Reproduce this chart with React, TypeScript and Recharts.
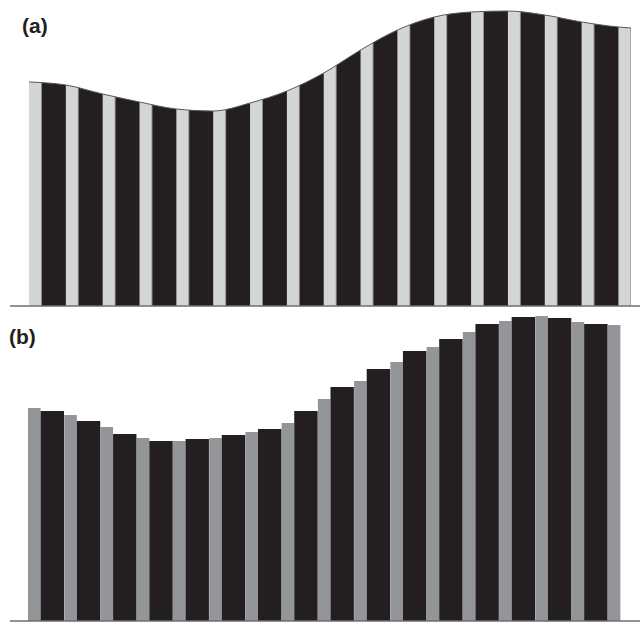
import React from 'react';
import { AreaChart, Area, BarChart, Bar, XAxis, YAxis } from 'recharts';

// panel (a): curve height read at the start of each light stripe, plus the right end
const curveX = [0, 1, 2, 3, 4, 5, 6, 7, 8, 9, 10, 11, 12, 13, 14, 15, 16, 16.34];
const curveH = [224, 221, 212, 204, 197, 195, 203, 215, 233, 256, 276, 289, 294, 295, 291, 284, 279, 278];

// panel (b): one group = light bar followed by dark bar
const groups = ['1', '2', '3', '4', '5', '6', '7', '8', '9', '10', '11', '12', '13', '14', '15', '16', '17'];
const grayH = [213, 206, 194, 183, 180, 183, 189, 198, 222, 240, 259, 274, 289, 300, 305, 299, 296];
const darkH = [210, 200, 187, 180, 182, 186, 192, 210, 234, 252, 270, 282, 297, 304, 303, 297, null];

const DARK = '#231f20';
const LIGHT = '#d4d5d7';
const MID = '#939598';
const AXIS = '#6d6e71';

const STRIPE_START = 29;
const STRIPE_PERIOD = 36.84;
const STRIPE_LIGHT = 12.5;

const curveData = curveX.map((x, i) => ({ x, h: curveH[i] }));
const barData = groups.map((name, i) => ({ name, gray: grayH[i], dark: darkH[i] }));

const labelStyle: React.CSSProperties = {
  position: 'absolute',
  fontFamily: '"Liberation Sans", Arial, sans-serif',
  fontWeight: 'bold',
  fontSize: 21,
  lineHeight: '21px',
  color: DARK,
};

export default function App() {
  return (
    <div style={{ position: 'absolute', left: 0, top: 0, width: 640, height: 623, overflow: 'hidden', background: '#fff' }}>
      <div style={{ position: 'absolute', left: 0, top: 0 }}>
        <AreaChart width={640} height={308} data={curveData} margin={{ top: 0, right: 0, left: 10, bottom: 0 }}>
          <defs>
            <pattern id="stripes" patternUnits="userSpaceOnUse" x={STRIPE_START} y={0} width={STRIPE_PERIOD} height={320}>
              <rect x={0} y={0} width={STRIPE_LIGHT} height={320} fill={LIGHT} />
              <rect x={STRIPE_LIGHT} y={0} width={STRIPE_PERIOD - STRIPE_LIGHT} height={320} fill={DARK} />
            </pattern>
          </defs>
          <XAxis
            type="number"
            dataKey="x"
            domain={[0, 16.34]}
            padding={{ left: 19, right: 9 }}
            tick={false}
            tickLine={false}
            height={2}
            axisLine={{ stroke: AXIS, strokeWidth: 1.5 }}
          />
          <YAxis hide domain={[0, 306]} />
          <Area
            type="monotone"
            dataKey="h"
            stroke="#58595b"
            strokeWidth={1}
            fill="url(#stripes)"
            fillOpacity={1}
            dot={false}
            activeDot={false}
            isAnimationActive={false}
          />
        </AreaChart>
      </div>
      <div style={{ position: 'absolute', left: 0, top: 308 }}>
        <BarChart
          width={644}
          height={315}
          data={barData}
          margin={{ top: 0, right: 0, left: 10, bottom: 0 }}
          barCategoryGap={0}
          barGap={0}
        >
          <XAxis
            dataKey="name"
            padding={{ left: 18, right: 0 }}
            tick={false}
            tickLine={false}
            height={2}
            axisLine={{ stroke: AXIS, strokeWidth: 1.5 }}
          />
          <YAxis hide domain={[0, 313]} />
          <Bar dataKey="gray" fill={MID} barSize={12.6} isAnimationActive={false} />
          <Bar dataKey="dark" fill={DARK} barSize={23.4} isAnimationActive={false} />
        </BarChart>
      </div>
      <div style={{ ...labelStyle, left: 22, top: 15 }}>(a)</div>
      <div style={{ ...labelStyle, left: 9, top: 326 }}>(b)</div>
    </div>
  );
}
